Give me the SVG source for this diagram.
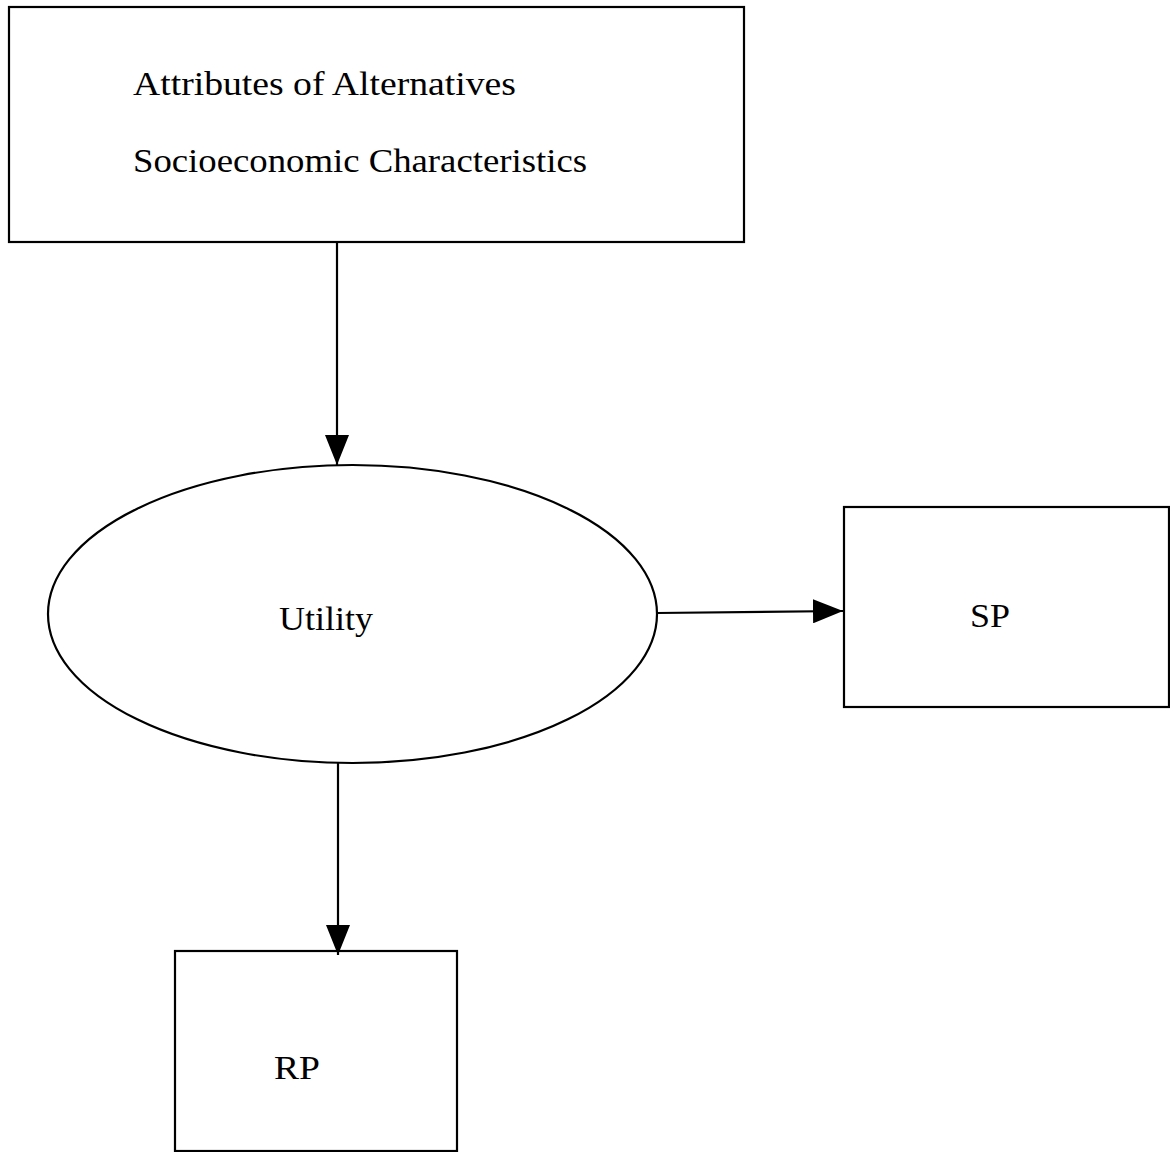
<svg xmlns="http://www.w3.org/2000/svg" width="1170" height="1152" viewBox="0 0 1170 1152">
<style>
.box{fill:#fff;stroke:#000;stroke-width:2.2}
.lbl{font-family:"Liberation Serif","Times New Roman",serif;font-size:34px;fill:#000}
.edge{stroke:#000;stroke-width:2.2;fill:none}
</style>
<defs>
<marker id="ah" markerWidth="30" markerHeight="24" refX="30" refY="12" orient="auto" markerUnits="userSpaceOnUse">
<path d="M0,0 L30,12 L0,24 Z" fill="#000"/>
</marker>
</defs>
<rect width="1170" height="1152" fill="#fff"/>
<g id="inputs">
<rect class="box" x="9" y="7" width="735" height="235"/>
<text class="lbl" x="133" y="95" textLength="383" lengthAdjust="spacingAndGlyphs">Attributes of Alternatives</text>
<text class="lbl" x="133" y="172" textLength="454" lengthAdjust="spacingAndGlyphs">Socioeconomic Characteristics</text>
</g>
<g id="utility">
<ellipse class="box" cx="352.5" cy="614" rx="304.5" ry="149"/>
<text class="lbl" x="279" y="630" textLength="94" lengthAdjust="spacingAndGlyphs">Utility</text>
</g>
<g id="sp">
<rect class="box" x="844" y="507" width="325" height="200"/>
<text class="lbl" x="970" y="627" textLength="40" lengthAdjust="spacingAndGlyphs">SP</text>
</g>
<g id="rp">
<rect class="box" x="175" y="951" width="282" height="200"/>
<text class="lbl" x="274" y="1079" textLength="46" lengthAdjust="spacingAndGlyphs">RP</text>
</g>
<g id="connectors">
<line class="edge" x1="337" y1="242" x2="337" y2="465" marker-end="url(#ah)"/>
<line class="edge" x1="657" y1="613" x2="843" y2="611" marker-end="url(#ah)"/>
<line class="edge" x1="338" y1="763" x2="338" y2="955" marker-end="url(#ah)"/>
</g>
</svg>
